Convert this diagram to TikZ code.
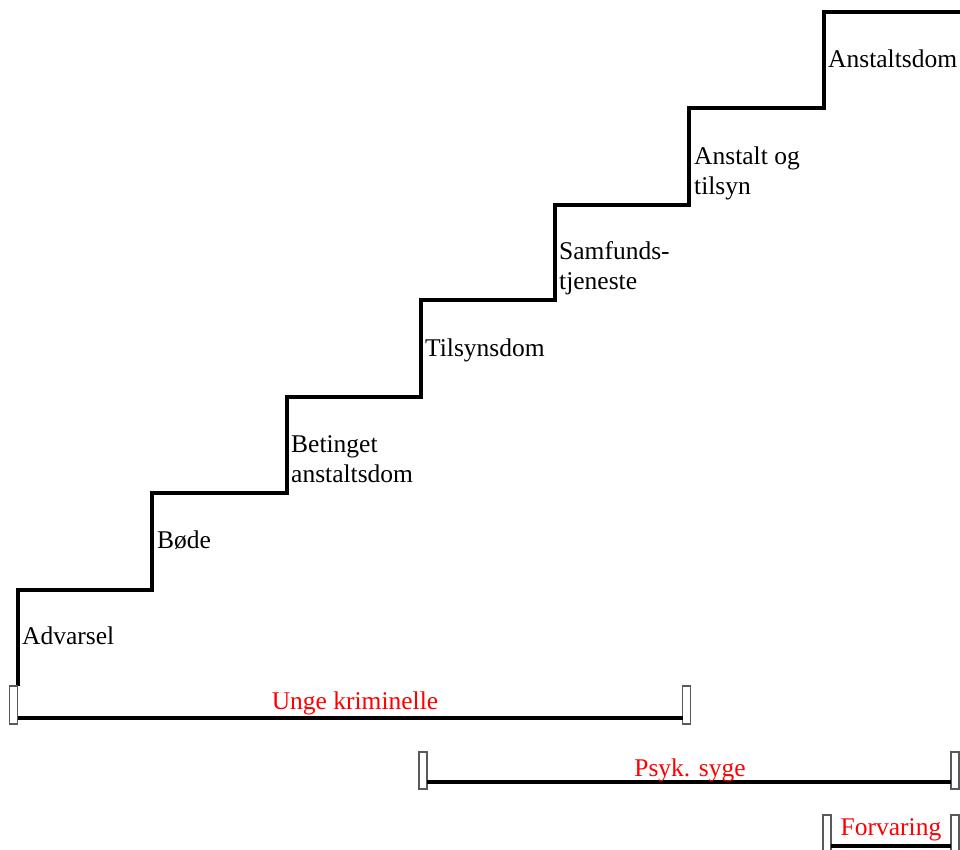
\documentclass[tikz,border=0pt]{standalone}
\usepackage{fontspec}
\setmainfont{Liberation Serif}
\usetikzlibrary{calc}
\begin{document}
\begin{tikzpicture}[x=1pt,y=-1pt,
  stair/.style={line width=4.8pt,line join=miter},
  steplabel/.style={anchor=base west,inner sep=0pt,align=left,
    font=\fontsize{25.5}{30}\selectfont},
  grouplabel/.style={anchor=base,inner sep=0pt,text=red,
    font=\fontsize{25.5}{30}\selectfont},
  endcap/.style={draw=black!65,line width=1.5pt,fill=white,
    minimum width=8pt,inner sep=0pt,outer sep=0pt},
  span/.style={line width=4.8pt}]
\useasboundingbox (0,0) rectangle (960,849);

% staircase of sanctions
\draw[stair] (18,686) -- (18,590) -- (152,590) -- (152,493) -- (287,493)
  -- (287,397) -- (421,397) -- (421,300) -- (555,300) -- (555,205)
  -- (689,205) -- (689,108) -- (824,108) -- (824,12) -- (962,12);

% step labels (multi-line labels sit on the baseline of their last line)
\node[steplabel] (s1) at (22,644) {Advarsel};
\node[steplabel] (s2) at (157,548) {Bøde};
\node[steplabel] (s3) at (291,482) {Betinget\\anstaltsdom};
\node[steplabel] (s4) at (425,356) {Tilsynsdom};
\node[steplabel] (s5) at (559,289) {Samfunds-\\tjeneste};
\node[steplabel] (s6) at (694,194) {Anstalt og\\tilsyn};
\node[steplabel] (s7) at (828,67) {Anstaltsdom};

% group ranges
\node[endcap,minimum height=38pt] (a1) at (13.5,705) {};
\node[endcap,minimum height=38pt] (a2) at (686.5,705) {};
\draw[span] ([yshift=6pt]a1.south east) -- ([yshift=6pt]a2.south west);
\node[grouplabel] (g1) at (355,709) {Unge kriminelle};

\node[endcap,minimum height=37pt] (b1) at (423,770.5) {};
\node[endcap,minimum height=37pt] (b2) at (955,770.5) {};
\draw[span] ([yshift=7pt]b1.south east) -- ([yshift=7pt]b2.south west);
\node[grouplabel] (g2) at (690,776) {Psyk. syge};

\node[endcap,minimum height=40pt] (c1) at (827,835) {};
\node[endcap,minimum height=40pt] (c2) at (955,835) {};
\draw[span] ([yshift=9pt]c1.south east) -- ([yshift=9pt]c2.south west);
\node[grouplabel] (g3) at (891,835) {Forvaring};
\end{tikzpicture}
\end{document}
